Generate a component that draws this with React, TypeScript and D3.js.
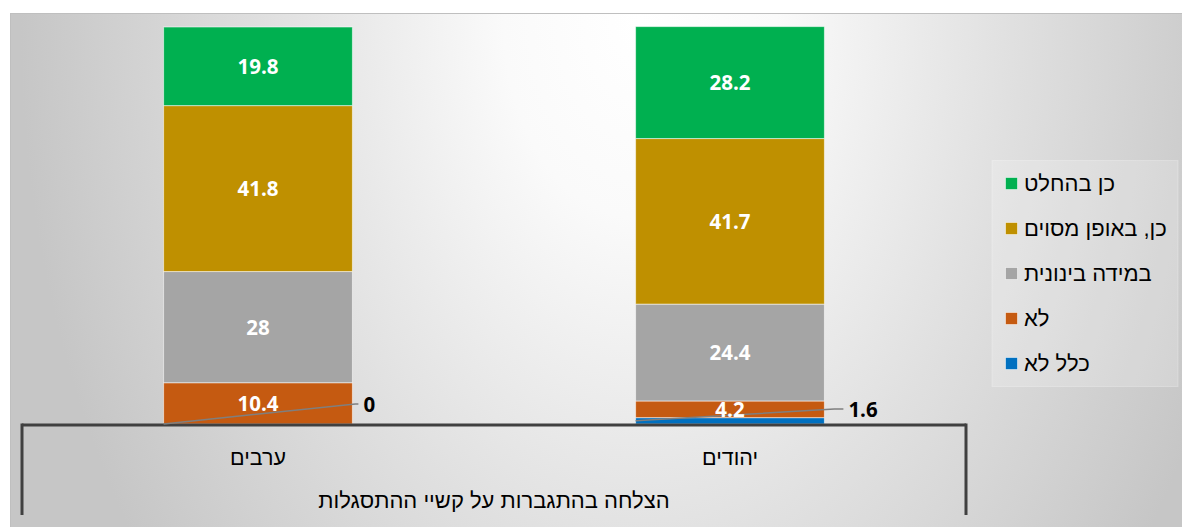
import React from "react";
import * as d3 from "d3";

const categories = ["ערבים", "יהודים"];
const groupLabel = "הצלחה בהתגברות על קשיי ההתסגלות";
const seriesNames = ["כלל לא", "לא", "במידה בינונית", "כן, באופן מסוים", "כן בהחלט"];
const seriesColors = ["#0070C0", "#C55A11", "#A5A5A5", "#BF9000", "#00B050"];
const notAtAll = [0, 1.6];
const no = [10.4, 4.2];
const moderate = [28, 24.4];
const somewhat = [41.8, 41.7];
const definitely = [19.8, 28.2];
// legend order (top to bottom)
const legendOrder = [4, 3, 2, 1, 0];
// offsets for the callout label of the smallest segment, per category
const calloutDx = [11, 24];
const calloutDy = [-19, -14];
const calloutGap = [8, 14];

const W = 1182;
const H = 527;
const FONT = "'Open Sans', 'DejaVu Sans', sans-serif";
const HEB = "'Liberation Sans', 'DejaVu Sans', sans-serif";

export default function App() {
  const seriesValues = [notAtAll, no, moderate, somewhat, definitely];
  const rows = categories.map((c, i) => {
    const r: any = { cat: c };
    seriesNames.forEach((s, j) => (r[s] = seriesValues[j][i]));
    return r;
  });
  const stack = d3.stack<any>().keys(seriesNames);
  const stacked = stack(rows);

  const x = d3.scaleBand<string>().domain(categories).range([22, 966]).paddingInner(0.6).paddingOuter(0.3);
  const y = d3.scaleLinear().domain([0, 100]).range([424, 27]);
  const axisY = 425;

  return (
    <svg width={W} height={H} style={{ display: "block", position: "absolute", left: 0, top: 0 }}>
      <defs>
        <radialGradient id="bg" gradientUnits="userSpaceOnUse" cx={0} cy={0} r={1}
          gradientTransform="translate(640,20) scale(620,900)">
          <stop offset="0" stopColor="#ffffff" />
          <stop offset="0.22" stopColor="#fafafa" />
          <stop offset="0.6" stopColor="#e0e0e0" />
          <stop offset="1" stopColor="#c6c6c6" />
        </radialGradient>
      </defs>
      <rect x={0} y={0} width={W} height={H} fill="#ffffff" />
      <rect x={10.5} y={13.5} width={W} height={H} fill="url(#bg)" stroke="#bfbfbf" strokeWidth={1} />

      {/* bars */}
      {stacked.map((s, j) => (
        <g key={s.key}>
          {s.map((d, i) => {
            const x0 = x(categories[i])!;
            const y0 = y(d[0]);
            const y1 = y(d[1]);
            return (
              <rect key={i} x={x0} y={y1} width={x.bandwidth()} height={Math.max(0, y0 - y1)}
                fill={seriesColors[j]} stroke="#ffffff" strokeOpacity={0.55} strokeWidth={1} />
            );
          })}
        </g>
      ))}

      {/* axis lines */}
      <line x1={22} x2={966} y1={axisY} y2={axisY} stroke="#404040" strokeWidth={3} />
      <line x1={22} x2={22} y1={axisY - 1.5} y2={515} stroke="#404040" strokeWidth={3} />
      <line x1={966} x2={966} y1={axisY - 1.5} y2={515} stroke="#404040" strokeWidth={3} />

      {/* data labels */}
      {stacked.map((s, j) => (
        <g key={"l" + s.key}>
          {s.map((d, i) => {
            const v = d[1] - d[0];
            const x0 = x(categories[i])!;
            const xc = x0 + x.bandwidth() / 2;
            const ym = (y(d[0]) + y(d[1])) / 2;
            if (j === 0) {
              const lx = x0 + x.bandwidth() + calloutDx[i];
              const ly = y(0) + calloutDy[i];
              return (
                <g key={i}>
                  <polyline
                    points={`${x0},${ym} ${lx - calloutGap[i]},${ly - 1} ${lx - 5},${ly - 1}`}
                    fill="none" stroke="#7f7f7f" strokeWidth={1.5} />
                  <text x={lx} y={ly} dy="0.36em" fontFamily={FONT} fontWeight="bold" fontSize={20.5} fill="#000">
                    {String(v)}
                  </text>
                </g>
              );
            }
            return (
              <text key={i} x={xc} y={ym} dy="0.36em" textAnchor="middle" fontFamily={FONT}
                fontWeight="bold" fontSize={20.5} fill="#ffffff">
                {String(+v.toFixed(1))}
              </text>
            );
          })}
        </g>
      ))}

      {/* category labels */}
      {categories.map((c) => (
        <text key={c} x={x(c)! + x.bandwidth() / 2} y={457} dy="0.36em" textAnchor="middle"
          fontFamily={HEB} fontSize={21.5} fill="#000">{c}</text>
      ))}
      <text x={(22 + 966) / 2} y={500} dy="0.36em" textAnchor="middle" fontFamily={HEB} fontSize={22} fill="#000">
        {groupLabel}
      </text>

      {/* legend */}
      <rect x={992} y={160.5} width={186} height={226} fill="#ffffff" fillOpacity={0.2} stroke="#ffffff" strokeOpacity={0.25} />
      {legendOrder.map((k, i) => {
        const ly = 183 + i * 45;
        return (
          <g key={k}>
            <rect x={1005.5} y={ly - 5.5} width={12} height={12} fill={seriesColors[k]} stroke="#ffffff" strokeOpacity={0.5} />
            <text x={1024} y={ly} dy="0.36em" fontFamily={HEB} fontSize={22} fill="#000">{seriesNames[k]}</text>
          </g>
        );
      })}
    </svg>
  );
}
